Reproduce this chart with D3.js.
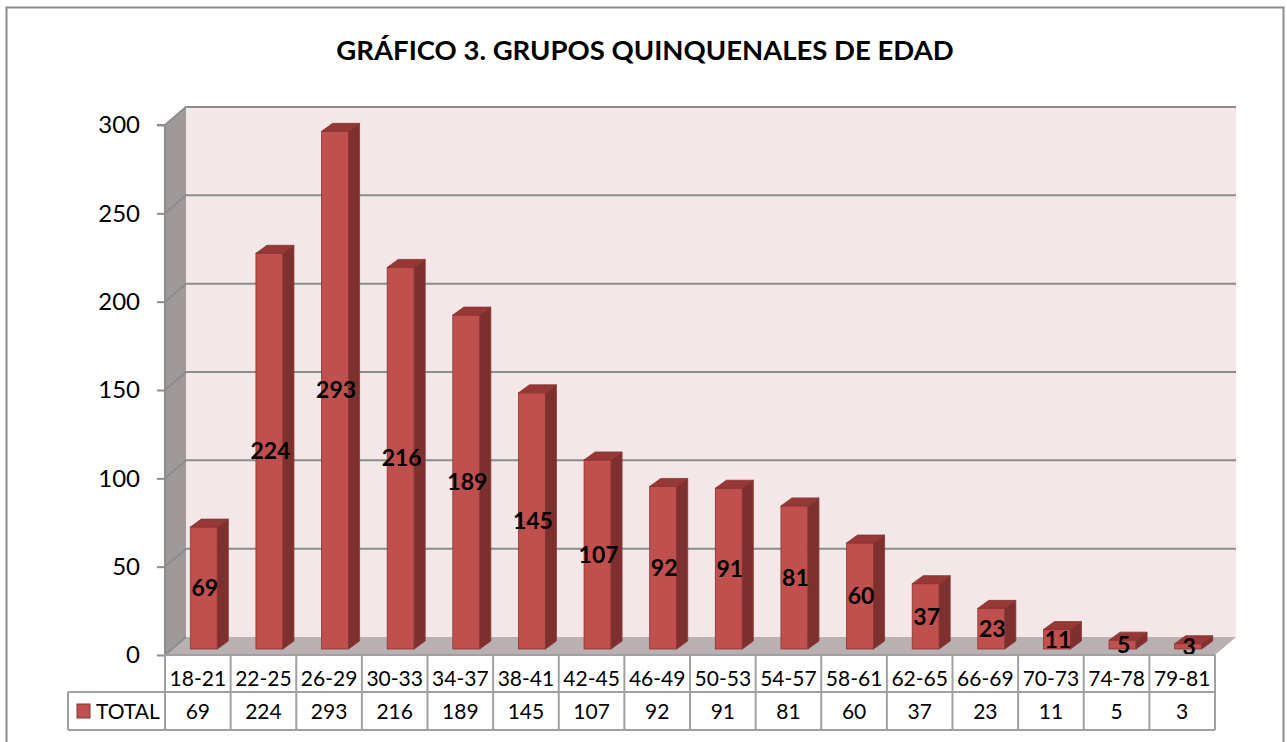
<!DOCTYPE html>
<html>
<head>
<meta charset="utf-8">
<script src="https://cdn.jsdelivr.net/npm/d3@7"></script>
<style>
  body { margin: 0; background: #fff; }
  svg { display: block; font-family: Lato, "Open Sans", sans-serif; }
</style>
</head>
<body>
<div id="chart"></div>
<script>
// data
const categories = ["18-21", "22-25", "26-29", "30-33", "34-37", "38-41", "42-45", "46-49",
                    "50-53", "54-57", "58-61", "62-65", "66-69", "70-73", "74-78", "79-81"];
const totals = [69, 224, 293, 216, 189, 145, 107, 92, 91, 81, 60, 37, 23, 11, 5, 3];
const yTicks = [0, 50, 100, 150, 200, 250, 300];
const seriesName = "TOTAL";
const title = "GRÁFICO 3. GRUPOS QUINQUENALES DE EDAD";

const W = 1287, H = 742;
const front = {left: 165, right: 1215, top: 125, bottom: 655};
const depth = {dx: 21, dy: -18};      // wall depth
const barOff = {dx: 6, dy: -6};       // bar front plane offset
const barDepth = {dx: 11, dy: -8};
const barW = 27;

const svg = d3.select("#chart").append("svg")
  .attr("width", W).attr("height", H);

// outer frame
svg.append("rect")
  .attr("x", 6.5).attr("y", 7.5).attr("width", 1277).attr("height", 760)
  .attr("fill", "#fff").attr("stroke", "#8c8c8c").attr("stroke-width", 2);

svg.append("text")
  .attr("x", 645).attr("y", 60)
  .attr("text-anchor", "middle")
  .attr("font-size", 27.5).attr("font-weight", "bold")
  .text(title);

const x = d3.scaleBand().domain(categories).range([front.left, front.right]);
const y = d3.scaleLinear().domain([0, 300]).range([front.bottom, front.top]);

const pts = a => a.map(p => p.join(",")).join(" ");

// back wall
svg.append("rect")
  .attr("x", front.left + depth.dx).attr("y", front.top + depth.dy)
  .attr("width", front.right - front.left).attr("height", front.bottom - front.top)
  .attr("fill", "#f3e7e7");

// side wall
svg.append("polygon")
  .attr("points", pts([[front.left, y(300)], [front.left + depth.dx, y(300) + depth.dy],
                       [front.left + depth.dx, y(0) + depth.dy], [front.left, y(0)]]))
  .attr("fill", "#9f9999");

// floor
svg.append("polygon")
  .attr("points", pts([[front.left, y(0)], [front.left + depth.dx, y(0) + depth.dy],
                       [front.right + depth.dx, y(0) + depth.dy], [front.right, y(0)]]))
  .attr("fill", "#b9b1b1");

// gridlines on back and side walls
const grid = svg.append("g").attr("stroke", "#8c8c8c").attr("stroke-width", 2).attr("fill", "none");
yTicks.filter(t => t > 0).forEach(t => {
  grid.append("polyline")
    .attr("points", pts([[front.left, y(t)], [front.left + depth.dx, y(t) + depth.dy],
                         [front.right + depth.dx, y(t) + depth.dy]]));
});
grid.append("line")
  .attr("x1", front.left).attr("y1", y(0))
  .attr("x2", front.left + depth.dx).attr("y2", y(0) + depth.dy);

// y axis
const axis = svg.append("g")
  .attr("transform", `translate(${front.left},0)`)
  .call(d3.axisLeft(y).tickValues(yTicks).tickSize(8).tickPadding(17));
axis.selectAll("path, line").attr("stroke", "#8c8c8c").attr("stroke-width", 2);
axis.select(".domain").attr("d", `M-8,${y(300)}H0V${y(0)}`);
axis.selectAll("text").attr("font-size", 24).attr("fill", "#000")
  .attr("font-family", "Lato, 'Open Sans', sans-serif");

// bars
const bars = svg.append("g");
categories.forEach((c, i) => {
  const v = totals[i];
  const L = x(c) + (x.bandwidth() - barW) / 2 + barOff.dx;
  const R = L + barW;
  const yt = y(v) + barOff.dy;
  const yb = y(0) + barOff.dy;
  const g = bars.append("g").attr("stroke", "#8a3432").attr("stroke-width", 0.8);
  g.append("rect").attr("x", L).attr("y", yt).attr("width", barW).attr("height", yb - yt)
    .attr("fill", "#c0504d");
  g.append("polygon")
    .attr("points", pts([[R, yt], [R + barDepth.dx, yt + barDepth.dy], [R + barDepth.dx, yb + barDepth.dy], [R, yb]]))
    .attr("fill", "#7e302e");
  g.append("polygon")
    .attr("points", pts([[L, yt], [L + barDepth.dx, yt + barDepth.dy], [R + barDepth.dx, yt + barDepth.dy], [R, yt]]))
    .attr("fill", "#953836");
  bars.append("text")
    .attr("x", L + barW / 2 + 1).attr("y", (yt + yb) / 2)
    .attr("dy", "0.36em")
    .attr("text-anchor", "middle")
    .attr("font-size", 23).attr("font-weight", "bold")
    .text(v);
});

// data table
const rowTop = front.bottom, rowMid = 692, rowBot = 730, legendLeft = 68;
const table = svg.append("g");
const lines = table.append("g").attr("stroke", "#a0a0a0").attr("stroke-width", 2);
lines.append("line").attr("x1", front.left).attr("x2", front.right).attr("y1", rowTop).attr("y2", rowTop);
lines.append("line").attr("x1", legendLeft).attr("x2", front.right).attr("y1", rowMid).attr("y2", rowMid);
lines.append("line").attr("x1", legendLeft).attr("x2", front.right).attr("y1", rowBot).attr("y2", rowBot);
lines.append("line").attr("x1", legendLeft).attr("x2", legendLeft).attr("y1", rowMid).attr("y2", rowBot);
categories.concat([null]).forEach((c, i) => {
  const xx = c ? x(c) : front.right;
  lines.append("line").attr("x1", xx).attr("x2", xx).attr("y1", rowTop).attr("y2", rowBot);
});
categories.forEach((c, i) => {
  const cx = x(c) + x.bandwidth() / 2;
  table.append("text").attr("x", cx).attr("y", (rowTop + rowMid) / 2 + 5)
    .attr("dy", "0.36em").attr("text-anchor", "middle").attr("font-size", 21).text(c);
  table.append("text").attr("x", cx).attr("y", (rowMid + rowBot) / 2)
    .attr("dy", "0.36em").attr("text-anchor", "middle").attr("font-size", 21).text(totals[i]);
});
table.append("rect").attr("x", 77).attr("y", 704).attr("width", 13).attr("height", 14)
  .attr("fill", "#c0504d").attr("stroke", "#8a3432").attr("stroke-width", 1);
table.append("text").attr("x", 96).attr("y", (rowMid + rowBot) / 2)
  .attr("dy", "0.36em").attr("font-size", 21).text(seriesName);
</script>
</body>
</html>
